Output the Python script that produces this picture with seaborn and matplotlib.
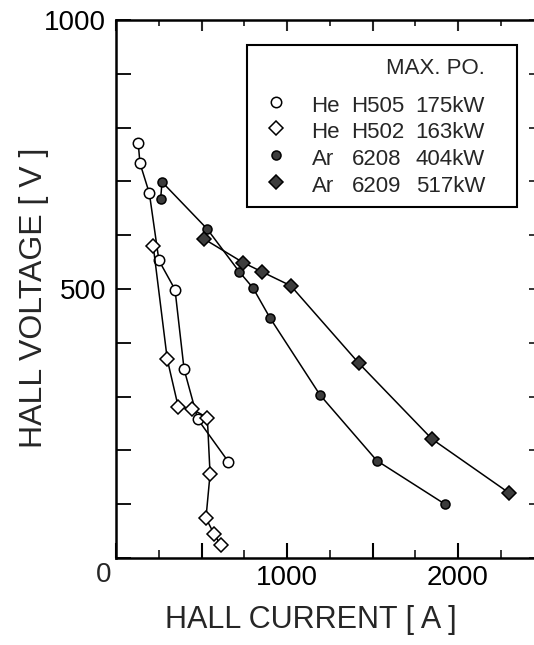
import matplotlib
matplotlib.use("Agg")
import matplotlib.pyplot as plt
import seaborn as sns
import pandas as pd
from matplotlib.patches import Rectangle
from matplotlib.ticker import MultipleLocator

# ---- data ----
he_h505_i = [130, 140, 195, 251, 345, 398, 478, 657]
he_h505_v = [771, 734, 678, 553, 499, 351, 258, 179]

he_h502_i = [218, 300, 364, 443, 534, 550, 526, 573, 612]
he_h502_v = [579, 369, 281, 277, 261, 156, 74, 45, 24]

ar_6208_i = [261, 269, 532, 721, 801, 901, 1193, 1525, 1924]
ar_6208_v = [667, 699, 612, 532, 502, 446, 303, 181, 100]

ar_6209_i = [515, 744, 853, 1022, 1420, 1848, 2298]
ar_6209_v = [593, 549, 532, 506, 362, 221, 121]

legend_gas = ["He", "He", "Ar", "Ar"]
legend_shot = ["H505", "H502", "6208", "6209"]
legend_power = ["175kW", "163kW", "404kW", "517kW"]
legend_title = "MAX. PO."

x_ticklabels = {1000: "1000", 2000: "2000"}
y_ticklabels = {500: "500", 1000: "1000"}
origin_label = "0"

sns.set_style("ticks")
plt.rcParams["font.family"] = ["Liberation Sans", "DejaVu Sans"]

fig = plt.figure(figsize=(5.34, 6.45), dpi=100)
ax = fig.add_axes([116 / 534, 1 - 558 / 645, 419 / 534, 538 / 645])

FILL = "#3c3c3c"
styles = [
    dict(marker="o", markersize=7.5, markerfacecolor="white", markeredgecolor="black"),
    dict(marker="D", markersize=7.0, markerfacecolor="white", markeredgecolor="black"),
    dict(marker="o", markersize=6.5, markerfacecolor=FILL, markeredgecolor="black"),
    dict(marker="D", markersize=6.8, markerfacecolor=FILL, markeredgecolor="black"),
]
series = [(he_h505_i, he_h505_v), (he_h502_i, he_h502_v),
          (ar_6208_i, ar_6208_v), (ar_6209_i, ar_6209_v)]

for (xi, yv), st in zip(series, styles):
    df = pd.DataFrame({"I": xi, "V": yv})
    sns.lineplot(data=df, x="I", y="V", sort=False, estimator=None, ax=ax,
                 color="black", linewidth=1.1, markeredgewidth=1.1, zorder=3, **st)

ax.set_xlim(0, 2450)
ax.set_ylim(0, 1000)

# ticks
ax.xaxis.set_major_locator(MultipleLocator(500))
ax.xaxis.set_minor_locator(MultipleLocator(250))
ax.xaxis.set_major_formatter(plt.FuncFormatter(lambda v, p: x_ticklabels.get(int(round(v)), "")))
ax.yaxis.set_major_locator(MultipleLocator(100))
ax.yaxis.set_major_formatter(plt.FuncFormatter(lambda v, p: y_ticklabels.get(int(round(v)), "")))

ax.tick_params(axis="x", which="major", direction="in", length=10.5, width=1.5,
               top=False, bottom=True, labelsize=20, pad=5, colors="black")
ax.tick_params(axis="x", which="minor", direction="in", length=5.5, width=1.3,
               top=False, bottom=True)
ax.tick_params(axis="y", which="major", direction="in", length=10.5, width=1.3,
               left=True, right=False, labelsize=20, pad=7, colors="black")

# shorter ticks on top and right, as in the reference
secx = ax.secondary_xaxis("top")
secx.xaxis.set_major_locator(MultipleLocator(500))
secx.xaxis.set_minor_locator(MultipleLocator(250))
secx.tick_params(which="major", direction="in", length=8, width=1.5, labeltop=False)
secx.tick_params(which="minor", direction="in", length=4.5, width=1.3)
secy = ax.secondary_yaxis("right")
secy.yaxis.set_major_locator(MultipleLocator(100))
secy.tick_params(which="major", direction="in", length=4.5, width=1.3, labelright=False)
for s in list(secx.spines.values()) + list(secy.spines.values()):
    s.set_visible(False)

for side in ["left", "bottom", "top"]:
    ax.spines[side].set_linewidth(1.8)
    ax.spines[side].set_color("black")
ax.spines["right"].set_visible(False)

# shared origin label at the lower-left corner
ax.text(-0.0286, -0.0316, origin_label, transform=ax.transAxes, ha="center",
        va="center", fontsize=20)

ax.set_xlabel("HALL CURRENT [ A ]", fontsize=22)
ax.xaxis.set_label_coords(0.465, -0.088)
ax.set_ylabel("HALL VOLTAGE [ V ]", fontsize=23)
ax.yaxis.set_label_coords(-0.16, 0.483)

# legend box drawn by hand to match the three-column layout
ax.add_patch(Rectangle((0.3126, 0.6524), 0.957 - 0.3126, 0.9535 - 0.6524,
                       transform=ax.transAxes, fill=False, edgecolor="black",
                       linewidth=1.5, zorder=5))
ax.text(0.8807, 0.8996, legend_title, transform=ax.transAxes, ha="right",
        va="baseline", fontsize=16)
row_marker_y = [0.848, 0.7987, 0.749, 0.6994]
row_text_y = [0.8295, 0.7807, 0.7305, 0.6809]
for k, st in enumerate(styles):
    ax.plot([0.3819], [row_marker_y[k]], transform=ax.transAxes, linestyle="none",
            markeredgewidth=1.1, zorder=6, clip_on=False, **st)
    ax.text(0.4668, row_text_y[k], legend_gas[k], transform=ax.transAxes,
            ha="left", va="baseline", fontsize=16)
    ax.text(0.5623, row_text_y[k], legend_shot[k], transform=ax.transAxes,
            ha="left", va="baseline", fontsize=16)
    ax.text(0.8807, row_text_y[k], legend_power[k], transform=ax.transAxes,
            ha="right", va="baseline", fontsize=16)

fig.savefig("out.png", dpi=100)
